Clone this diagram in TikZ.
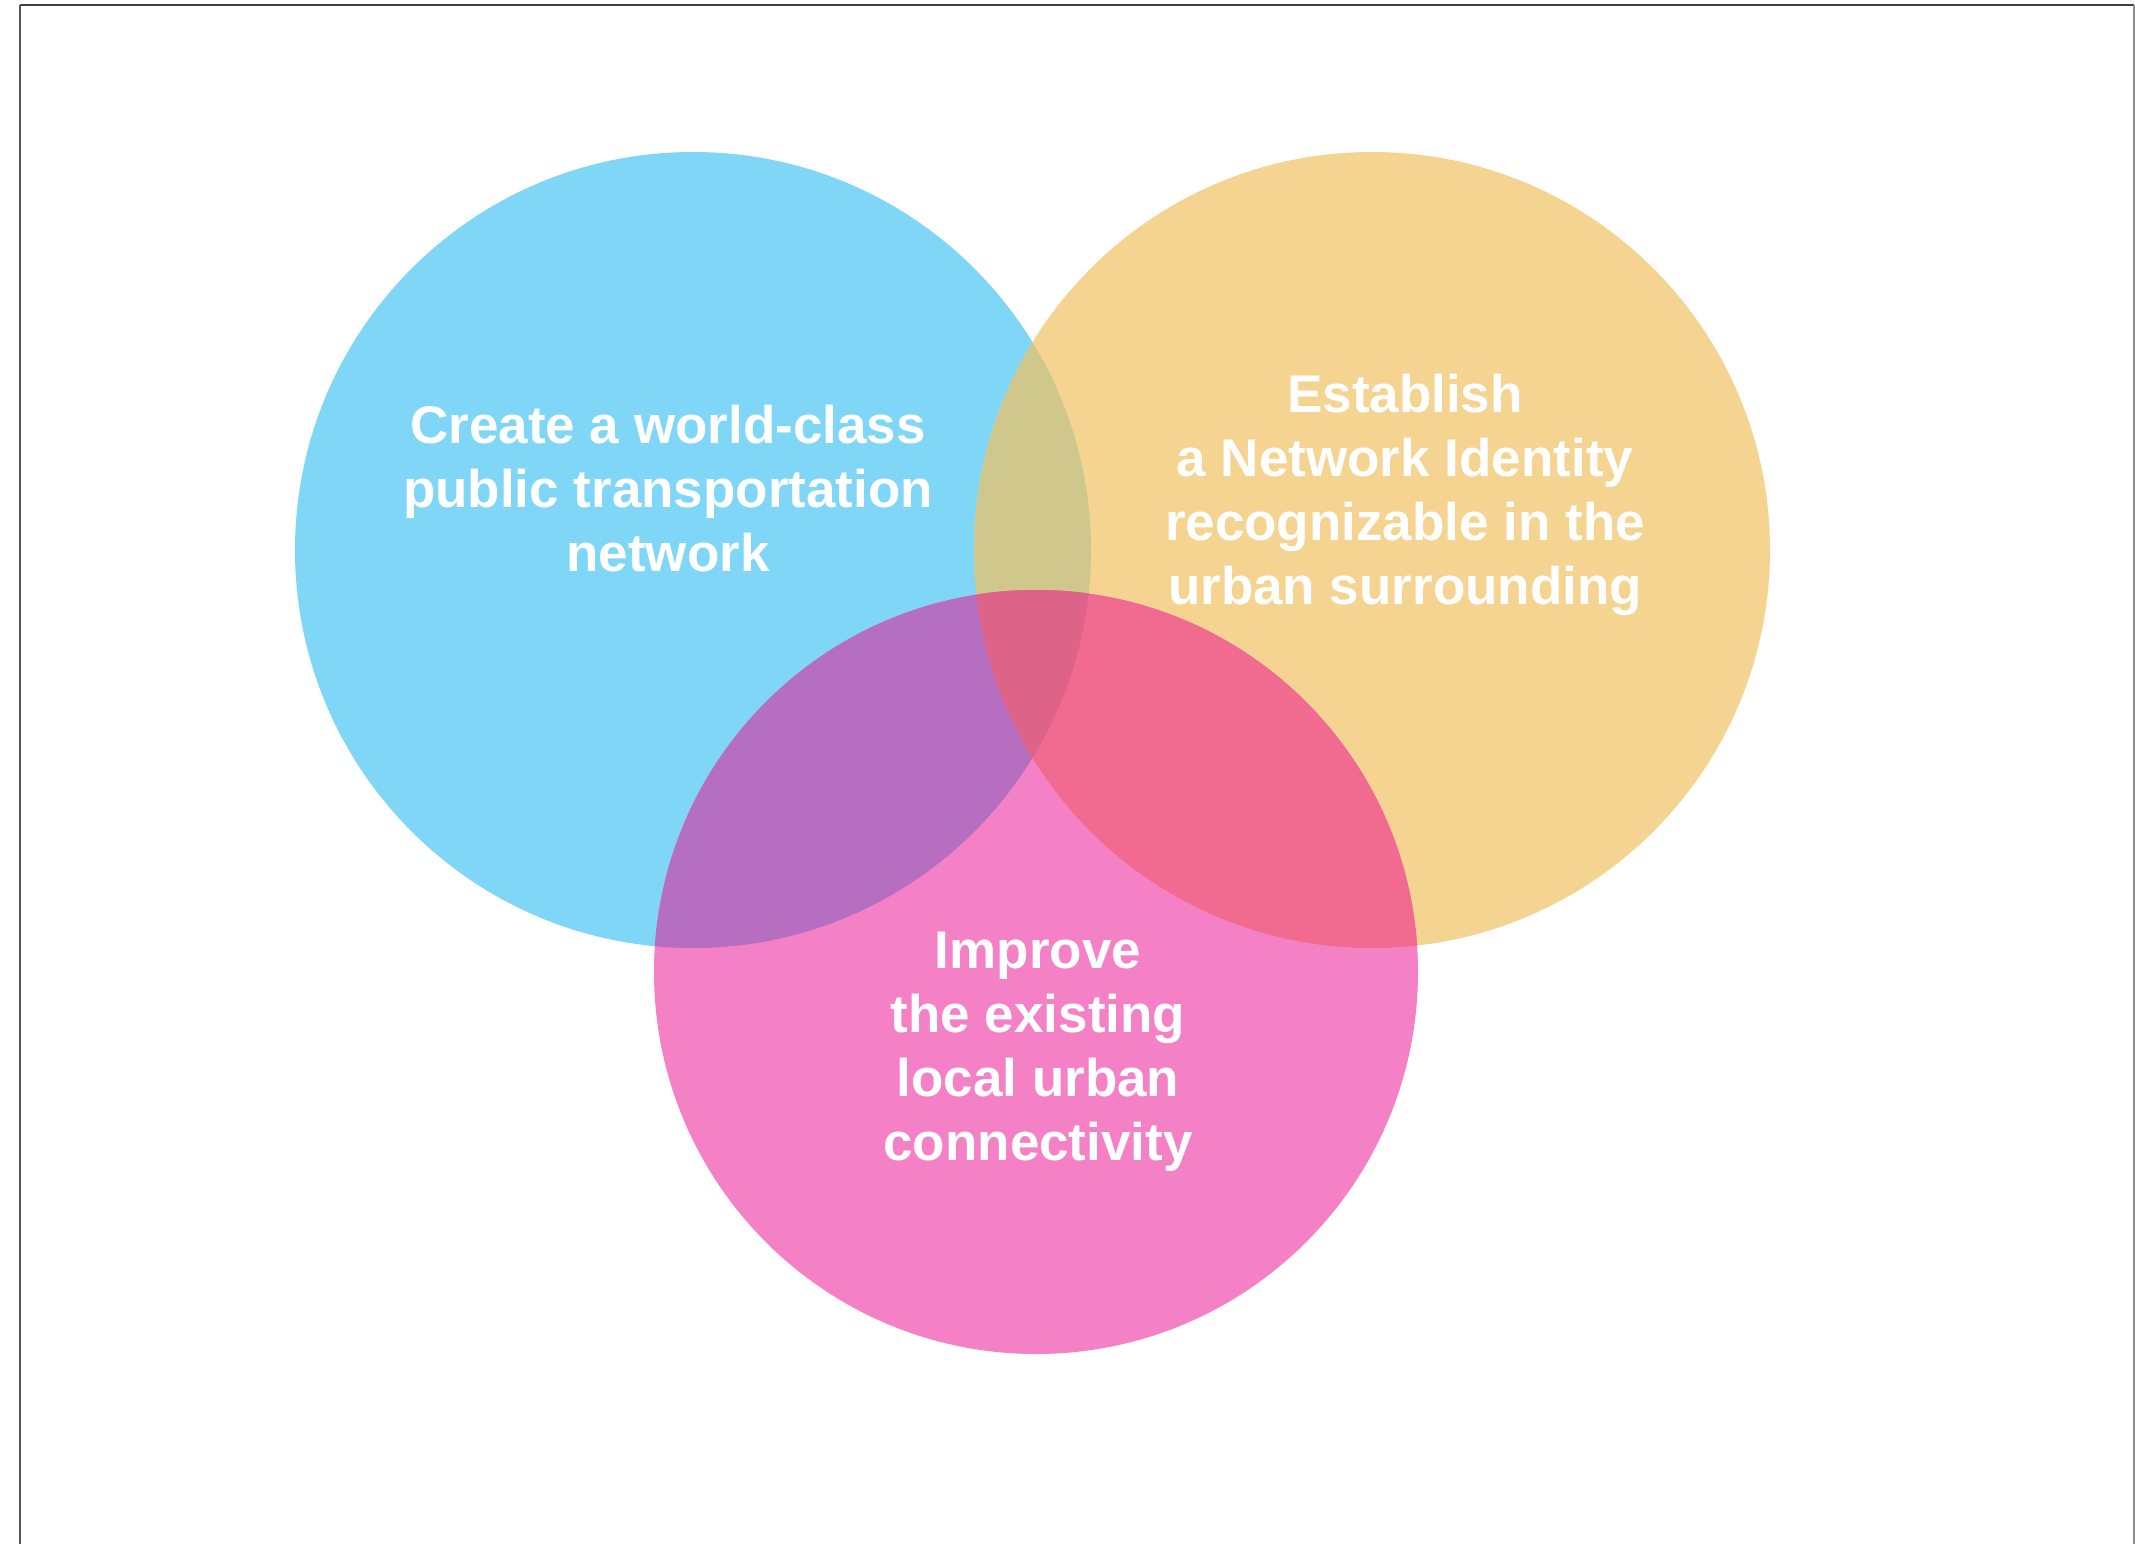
\documentclass[tikz,border=0pt]{standalone}
\usepackage{fontspec}
\setmainfont{Liberation Sans}
\definecolor{cblue}{HTML}{80D6F7}
\definecolor{corange}{HTML}{F5D491}
\definecolor{cpink}{HTML}{F480C5}
\definecolor{cbo}{HTML}{D0C78D}
\definecolor{cbp}{HTML}{B56EC0}
\definecolor{cop}{HTML}{F06B8F}
\definecolor{cbop}{HTML}{DE6389}
\tikzset{
  lbl/.style={text=white, font=\fontsize{53}{64}\selectfont\bfseries, anchor=base, inner sep=0pt},
  frameline/.style={line width=2pt}
}
\begin{document}
\begin{tikzpicture}[x=1pt,y=-1pt]
\useasboundingbox (0,0) rectangle (2135,1544);
\fill[white] (0,0) rectangle (2135,1544);
% frame
\coordinate (tl) at (20,5);
\coordinate (tr) at (2134,5);
\coordinate (bl) at (20,1544);
\coordinate (br) at (2134,1544);
\draw[frameline, color=black!75] (tl) -- (tr);
\draw[frameline, color=black!65] (tl) -- (bl);
\draw[line width=1.5pt, color=black!45] (tr) -- (br);
% circles
\def\blue{(693,550) circle[radius=398]}
\def\orange{(1372,550) circle[radius=398]}
\def\pink{(1036,972) circle[radius=382]}
\fill[cblue] \blue;
\fill[corange] \orange;
\fill[cpink] \pink;
\begin{scope}
  \clip \blue;
  \fill[cbo] \orange;
  \fill[cbp] \pink;
\end{scope}
\begin{scope}
  \clip \orange;
  \fill[cop] \pink;
\end{scope}
\begin{scope}
  \clip \blue;
  \clip \orange;
  \fill[cbop] \pink;
\end{scope}
% blue text
\node[lbl] (b1) at (668,443) {Create a world-class};
\node[lbl] (b2) at (668,507) {public transportation};
\node[lbl] (b3) at (668,571) {network};
% orange text
\node[lbl] (o1) at (1405,412) {Establish};
\node[lbl] (o2) at (1405,476) {a Network Identity};
\node[lbl] (o3) at (1405,540) {recognizable in the};
\node[lbl] (o4) at (1405,604) {urban surrounding};
% pink text
\node[lbl] (p1) at (1038,968) {Improve};
\node[lbl] (p2) at (1038,1032) {the existing};
\node[lbl] (p3) at (1038,1096) {local urban};
\node[lbl] (p4) at (1038,1160) {connectivity};
\end{tikzpicture}
\end{document}
